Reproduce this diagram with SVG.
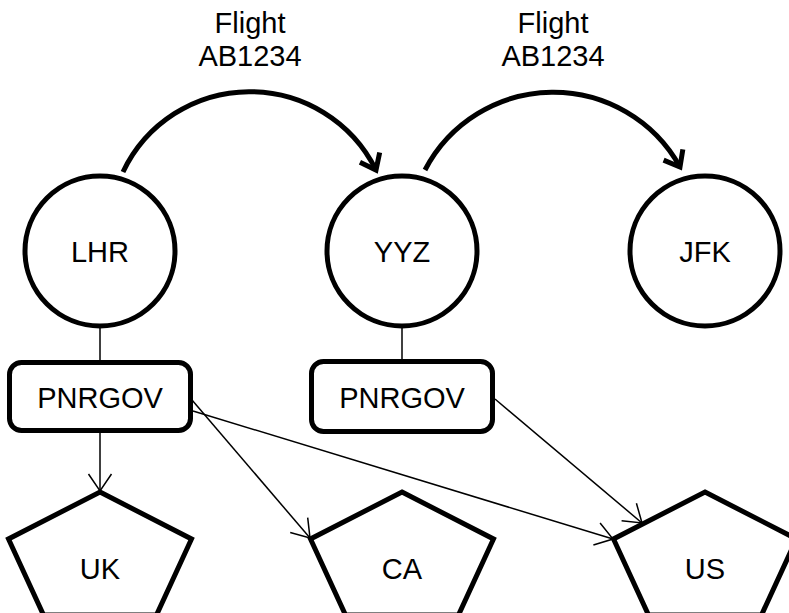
<svg xmlns="http://www.w3.org/2000/svg" width="789" height="613" viewBox="0 0 789 613">
  <defs>
    <marker id="thick" markerUnits="userSpaceOnUse" markerWidth="30" markerHeight="30" viewBox="-4 -4 22 30" refX="14" refY="11" orient="auto" overflow="visible">
      <path d="M0,0 L14,11 L0,22" fill="none" stroke="#000" stroke-width="5" stroke-linejoin="miter"/>
    </marker>
    <marker id="thin" markerUnits="userSpaceOnUse" markerWidth="24" markerHeight="28" viewBox="-2 -2 22 28" refX="17" refY="12" orient="auto" overflow="visible">
      <path d="M0,0.5 L17,12 L0,23.5" fill="none" stroke="#000" stroke-width="1.5"/>
    </marker>
    <style>
      .node { fill: #fff; stroke: #000; stroke-width: 5; }
      .lbl { font-family: "Liberation Sans", Arial, sans-serif; font-size: 29px; fill: #000; text-anchor: middle; }
      .thin { fill: none; stroke: #000; stroke-width: 1.5; }
      .arc { fill: none; stroke: #000; stroke-width: 5; }
    </style>
  </defs>

  <g id="connectors">
    <path class="arc" d="M123,172 A140.5,140.5 0 0 1 376,170" marker-end="url(#thick)"/>
    <path class="arc" d="M425,170 A144.8,144.8 0 0 1 680,167" marker-end="url(#thick)"/>
    <line class="thin" x1="100" y1="327" x2="100" y2="360"/>
    <line class="thin" x1="402" y1="327" x2="402" y2="359"/>
    <line class="thin" x1="100" y1="433" x2="100" y2="491" marker-end="url(#thin)"/>
    <line class="thin" x1="192" y1="400" x2="310" y2="538" marker-end="url(#thin)"/>
    <line class="thin" x1="193" y1="411" x2="613" y2="539" marker-end="url(#thin)"/>
    <line class="thin" x1="495" y1="399" x2="642" y2="523" marker-end="url(#thin)"/>
  </g>

  <g id="label-flight-1">
    <text class="lbl" x="250" y="33">Flight</text>
    <text class="lbl" x="250" y="66">AB1234</text>
  </g>
  <g id="label-flight-2">
    <text class="lbl" x="553" y="33">Flight</text>
    <text class="lbl" x="553" y="66">AB1234</text>
  </g>

  <g id="LHR">
    <circle class="node" cx="100" cy="251" r="75"/>
    <text class="lbl" x="100" y="262">LHR</text>
  </g>
  <g id="YYZ">
    <circle class="node" cx="402" cy="251" r="75"/>
    <text class="lbl" x="402" y="262">YYZ</text>
  </g>
  <g id="JFK">
    <circle class="node" cx="705" cy="251" r="75"/>
    <text class="lbl" x="705" y="262">JFK</text>
  </g>

  <g id="PNRGOV-1">
    <rect class="node" x="9.5" y="362.5" width="181" height="68" rx="12" ry="12"/>
    <text class="lbl" x="100" y="408">PNRGOV</text>
  </g>
  <g id="PNRGOV-2">
    <rect class="node" x="311.5" y="361.5" width="181" height="70" rx="12" ry="12"/>
    <text class="lbl" x="402" y="408">PNRGOV</text>
  </g>

  <g id="UK">
    <polygon class="node" points="100,492 191.5,539 156.5,615 43.5,615 8.5,539"/>
    <text class="lbl" x="100" y="579">UK</text>
  </g>
  <g id="CA">
    <polygon class="node" points="402,492 493.5,539 458.5,615 345.5,615 310.5,539"/>
    <text class="lbl" x="402" y="579">CA</text>
  </g>
  <g id="US">
    <polygon class="node" points="705,492 796.5,539 761.5,615 648.5,615 613.5,539"/>
    <text class="lbl" x="705" y="579">US</text>
  </g>
</svg>
